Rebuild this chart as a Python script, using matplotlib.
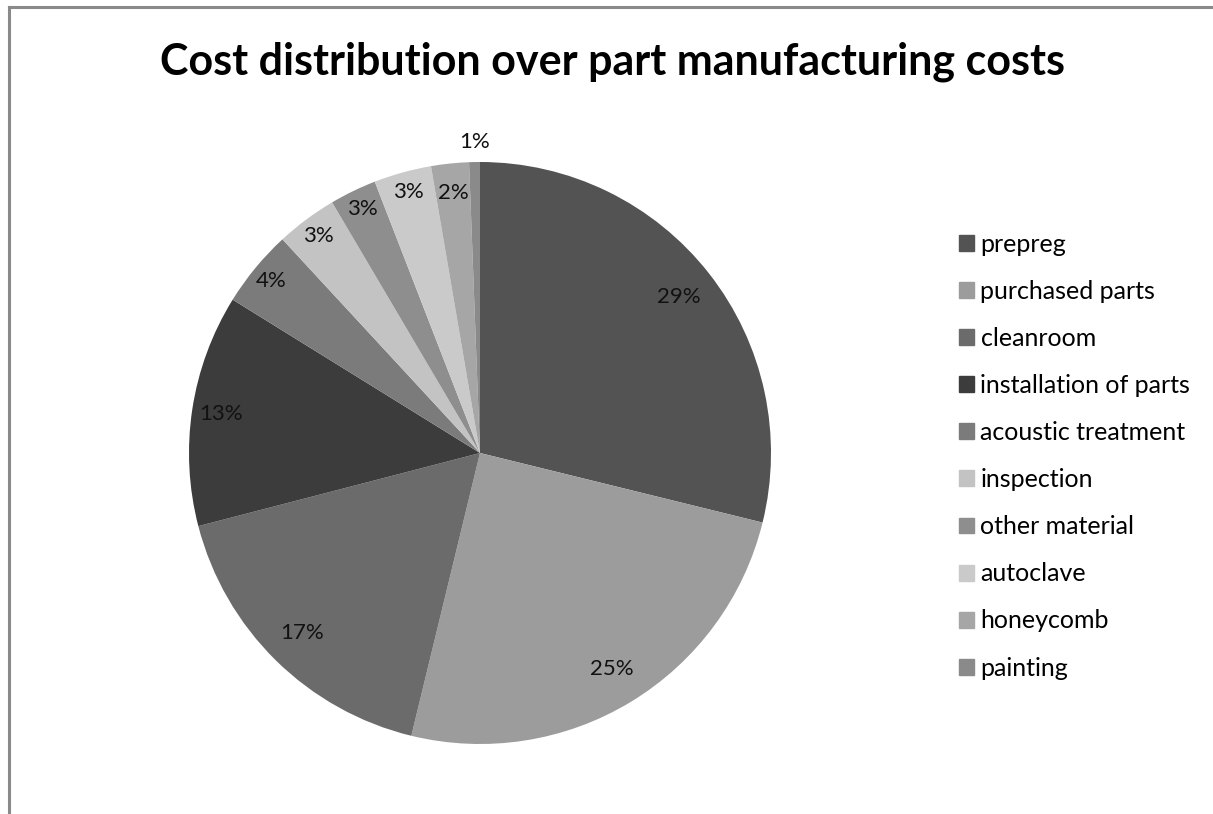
import matplotlib
matplotlib.use("Agg")
import matplotlib.pyplot as plt
import numpy as np
from matplotlib.patches import Rectangle
from matplotlib.lines import Line2D

categories = ["prepreg", "purchased parts", "cleanroom", "installation of parts",
              "acoustic treatment", "inspection", "other material", "autoclave",
              "honeycomb", "painting"]
values = [28.9, 25.0, 17.2, 12.9, 4.3, 3.4, 2.6, 3.2, 2.1, 0.6]
colors = ["#535353", "#9c9c9c", "#6b6b6b", "#3c3c3c", "#7b7b7b",
          "#c3c3c3", "#8e8e8e", "#cacaca", "#a6a6a6", "#8a8a8a"]

W, H = 1213, 814
fig = plt.figure(figsize=(W / 100, H / 100), dpi=100)
fig.patch.set_facecolor("white")

# outer frame: top and left edges only
fig.add_artist(Line2D([9 / W, 1.0], [1 - 7 / H, 1 - 7 / H], transform=fig.transFigure,
                      color="#8a8a8a", linewidth=2.2))
fig.add_artist(Line2D([9 / W, 9 / W], [0, 1 - 7 / H], transform=fig.transFigure,
                      color="#8a8a8a", linewidth=2.2))

fig.text(612 / W, 1 - 62 / H, "Cost distribution over part manufacturing costs",
         ha="center", va="center", fontsize=31, fontweight="bold", family="Lato")

cx, cy, r = 480, H - 453, 291
ax = fig.add_axes([(cx - r) / W, (cy - r) / H, 2 * r / W, 2 * r / H])
wedges, _ = ax.pie(values, colors=colors, startangle=90, counterclock=False,
                   radius=1.0, wedgeprops=dict(linewidth=0))
ax.set_xlim(-1, 1)
ax.set_ylim(-1, 1)
ax.set_aspect("equal")
ax.axis("off")

total = sum(values)
dists = [0.87, 0.87, 0.87, 0.9, 0.93, 0.93, 0.93, 0.93, 0.9, 1.07]
for w, v, d in zip(wedges, values, dists):
    ang = np.deg2rad((w.theta1 + w.theta2) / 2)
    ax.text(d * np.cos(ang), d * np.sin(ang), f"{v / total * 100:.0f}%",
            ha="center", va="center", fontsize=16, family="Lato", color="#111111")

handles = [Rectangle((0, 0), 1, 1, color=c) for c in colors]
fig.legend(handles, categories, loc="upper left", bbox_to_anchor=(936 / W, 1 - 210 / H),
           frameon=False, handlelength=0.6, handleheight=0.6, handletextpad=0.28,
           labelspacing=0.965, prop=dict(family="Lato", size=18))

fig.savefig("out.png", dpi=100, facecolor="white")
